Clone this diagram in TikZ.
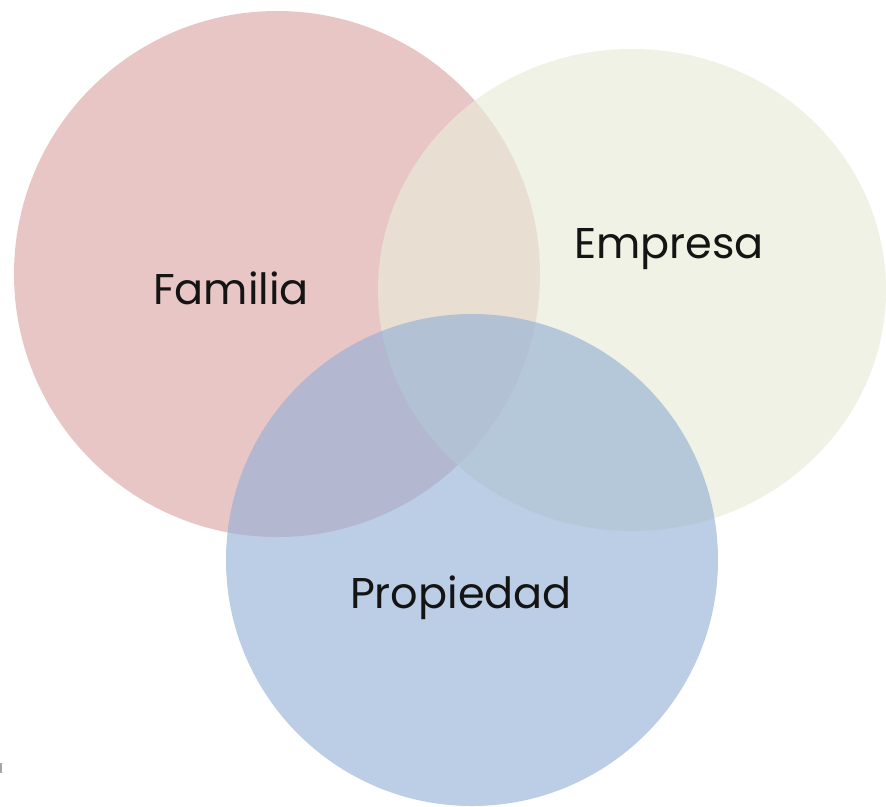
\documentclass[tikz,border=0pt]{standalone}
\usepackage{fontspec}
\setmainfont{Poppins}
\definecolor{famc}{RGB}{233,198,198}
\definecolor{empc}{RGB}{232,236,216}
\definecolor{proc}{RGB}{143,173,213}
\definecolor{txt}{RGB}{20,20,20}
\begin{document}
\begin{tikzpicture}[x=1pt,y=-1pt,
  lbl/.style={font=\fontsize{43}{48}\selectfont, text=txt, inner sep=0pt}]
\useasboundingbox (0,0) rectangle (886,806);
\clip (0,0) rectangle (886,806);
\fill[famc] (277,274) circle (263);
\fill[empc, fill opacity=0.68] (632,290) ellipse [x radius=254, y radius=241];
\fill[proc, fill opacity=0.6] (472,560) circle (246);
\node[lbl] (familia) at (231,288) {Familia};
\node[lbl] (empresa) at (669,249) {Empresa};
\node[lbl] (propiedad) at (461,598) {Propiedad};
\fill[gray!70] (0,763) rectangle (1.5,773);
\end{tikzpicture}
\end{document}
